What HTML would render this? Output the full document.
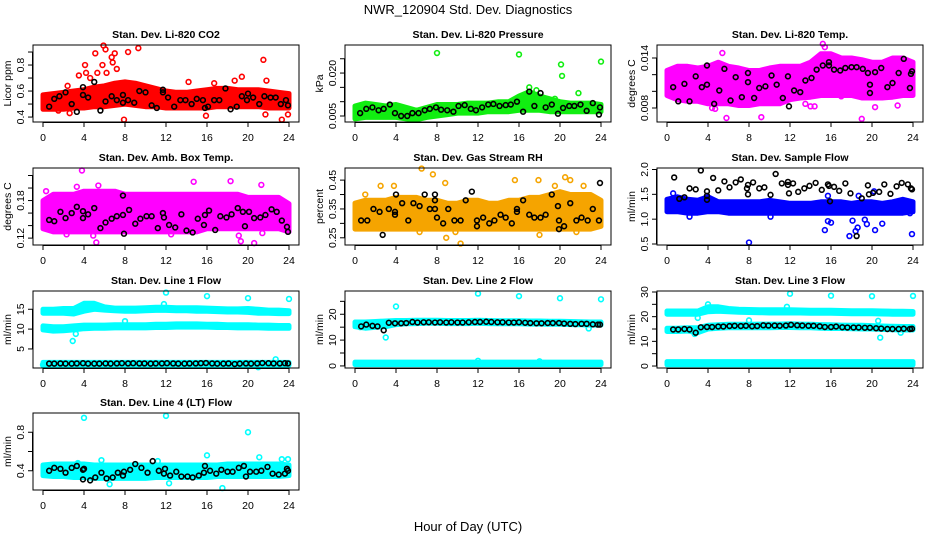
<!DOCTYPE html>
<html><head><meta charset="utf-8"><style>
body{margin:0;background:#fff;}
svg text{font-family:"Liberation Sans",sans-serif;fill:#000;}
</style></head><body>
<svg id="chart" width="936" height="540" viewBox="0 0 936 540" xmlns="http://www.w3.org/2000/svg">
<text x="468" y="14" text-anchor="middle" font-size="13">NWR_120904  Std. Dev. Diagnostics</text>
<text x="468" y="531" text-anchor="middle" font-size="13">Hour of Day (UTC)</text>
</svg>
<script>
const hours=[0,1,2,3,4,5,6,7,8,9,10,11,12,13,14,15,16,17,18,19,20,21,22,23,24];
const xTicks=[0,4,8,12,16,20,24];

// Panel 1 CO2
const co2Lo=[.46,.46,.46,.47,.47,.48,.48,.49,.50,.49,.48,.48,.47,.47,.47,.47,.47,.48,.48,.48,.48,.48,.47,.47,.47];
const co2Hi=[.57,.58,.59,.60,.61,.63,.64,.66,.67,.66,.64,.62,.60,.59,.59,.60,.61,.62,.62,.61,.61,.61,.60,.59,.58];
const co2Out=[[5.9,.95],[6.1,.92],[8.3,.90],[9.3,.93],[5.1,.89],[6.7,.86],[7.0,.89],[4.1,.80],[5.8,.80],[6.8,.82],[7.2,.77],[3.5,.72],[4.2,.74],[4.6,.70],[5.3,.74],[6.2,.74],[7.9,.38],[15.9,.41],[21.5,.84],[21.7,.42],[23.3,.38],[23.9,.42],[19.4,.71],[18.7,.68],[14.2,.67],[16.7,.66],[2.6,.43],[1.5,.45],[21.8,.68],[2.4,.64]];
const co2Black=[[0.6,.48],[1.1,.54],[1.6,.56],[2.2,.59],[2.8,.50],[3.3,.44],[3.9,.57],[3.9,.63],[4.4,.55],[5.0,.67],[5.6,.45],[6.1,.52],[6.7,.56],[7.2,.53],[7.8,.51],[7.8,.57],[8.3,.53],[8.9,.51],[9.4,.60],[10.0,.59],[10.6,.49],[11.1,.47],[11.7,.61],[11.7,.59],[12.2,.55],[12.8,.48],[13.4,.53],[13.9,.53],[14.5,.50],[15.0,.54],[15.6,.53],[15.8,.47],[16.1,.48],[16.7,.53],[17.2,.53],[17.8,.62],[18.3,.46],[18.9,.48],[19.4,.56],[19.9,.53],[20.0,.58],[20.5,.55],[21.1,.50],[21.6,.56],[22.2,.55],[22.7,.55],[23.2,.50],[23.7,.53],[23.9,.49]];
// Panel 2 Pressure
const prLo=[.004,.0045,.0045,.0045,.0045,.004,.0037,.0045,.005,.0055,.006,.006,.006,.0065,.0065,.0065,.007,.007,.007,.0065,.0065,.0065,.0065,.0065,.0065];
const prHi=[.0085,.0095,.009,.0085,.009,.008,.007,.008,.009,.009,.009,.0095,.0095,.0095,.010,.010,.012,.0135,.012,.011,.010,.0095,.0095,.0095,.009];
const prOut=[[8,.027],[16,.0265],[20.1,.023],[20.2,.019],[24,.024],[21.8,.013],[17,.015],[17.7,.014],[19.5,.011]];
const prBlack=[[0.5,.006],[1.1,.0075],[1.7,.008],[2.3,.007],[2.8,.0075],[3.4,.009],[3.9,.006],[4.5,.005],[5.1,.005],[5.6,.006],[6.2,.006],[6.8,.007],[7.3,.0075],[7.9,.008],[8.4,.0072],[9.0,.007],[9.6,.0065],[10.1,.0085],[10.7,.0088],[11.3,.0075],[11.8,.007],[12.4,.008],[13.0,.009],[13.5,.0092],[14.1,.0085],[14.7,.0088],[15.2,.009],[15.8,.010],[16.4,.0065],[17,.0135],[17.5,.0085],[18.1,.013],[18.6,.008],[19.2,.009],[19.8,.0058],[20.3,.0078],[20.9,.0085],[21.4,.0085],[22.0,.009],[22.6,.0068],[23.2,.0095],[23.8,.0055],[23.9,.008]];
// Panel 3 Li-820 Temp
const ltLo=[.0095,.009,.0088,.0088,.0085,.0085,.0085,.0083,.0083,.0085,.0085,.0085,.009,.0092,.0093,.0095,.0095,.0095,.0095,.0092,.0092,.0092,.0093,.0095,.0095];
const ltHi=[.0125,.013,.013,.0128,.013,.0135,.013,.0128,.0125,.0125,.0128,.013,.013,.013,.0135,.0145,.0145,.014,.014,.0138,.0135,.0135,.014,.014,.0135];
const ltOut=[[15.2,.0157],[15.4,.0153],[5.4,.0146],[5.8,.0068],[9.2,.0069],[19,.0067],[14,.0082],[14.4,.0082],[17,.0094],[20.3,.0081],[4.4,.008],[4.7,.0079],[22.5,.0083],[13.5,.0085]];
const ltBlack=[[0.6,.0105],[1.1,.0088],[1.7,.0109],[2.2,.0088],[2.8,.0118],[3.4,.0105],[3.9,.0131],[3.9,.0108],[4.6,.0085],[5.1,.0101],[5.6,.0127],[6.2,.0089],[6.7,.0117],[7.3,.0093],[7.9,.0122],[7.9,.0111],[8.5,.0092],[9.0,.0104],[9.6,.0106],[10.2,.0119],[10.7,.0108],[11.3,.0092],[11.8,.0118],[11.9,.0082],[12.4,.0101],[13.0,.0099],[13.5,.0113],[14.1,.0116],[14.6,.0126],[15.2,.0131],[15.8,.0131],[15.8,.0135],[16.3,.0126],[16.9,.0125],[17.4,.0128],[18.0,.0129],[18.5,.0129],[19.1,.0127],[19.6,.0122],[19.8,.0098],[19.8,.0108],[20.3,.0123],[20.9,.0128],[21.5,.0105],[22.0,.011],[22.6,.0122],[23.1,.0139],[23.7,.0104],[23.8,.0121],[23.9,.0124]];
// Panel 4 Amb Box Temp
const abLo=[.135,.13,.13,.13,.13,.13,.13,.13,.13,.13,.13,.13,.13,.13,.13,.13,.135,.135,.135,.135,.135,.135,.135,.135,.13];
const abHi=[.18,.19,.19,.19,.195,.195,.195,.195,.19,.19,.19,.19,.19,.19,.19,.19,.19,.19,.19,.19,.185,.185,.185,.185,.175];
const abOut=[[3.8,.228],[5.2,.113],[20.6,.112],[19.3,.115],[2.3,.126],[12.5,.126],[18.3,.211],[14.7,.210],[5.4,.204],[21.3,.205],[0.3,.195],[3.3,.202],[19.1,.124],[21.4,.128],[4.9,.124]];
const abBlack=[[0.6,.149],[1.1,.147],[1.7,.162],[2.2,.152],[2.8,.160],[3.3,.170],[3.9,.163],[3.9,.152],[4.4,.158],[5.0,.168],[5.6,.136],[6.1,.145],[6.7,.151],[7.2,.155],[7.8,.188],[7.8,.157],[7.9,.127],[8.4,.165],[9.0,.143],[9.5,.151],[10.1,.155],[10.6,.155],[11.2,.136],[11.7,.160],[11.8,.153],[12.3,.141],[12.9,.137],[13.5,.158],[14.0,.132],[14.6,.129],[15.1,.151],[15.7,.141],[15.8,.157],[16.2,.164],[16.8,.133],[17.3,.155],[17.9,.153],[18.4,.158],[19.0,.168],[19.5,.162],[19.7,.139],[20.1,.162],[20.6,.152],[21.2,.153],[21.7,.157],[22.3,.166],[22.8,.162],[23.3,.148],[23.8,.138],[23.9,.130]];
// Panel 5 Gas Stream RH
const rhLo=[.28,.28,.28,.28,.28,.28,.28,.28,.28,.28,.28,.28,.28,.28,.28,.28,.28,.28,.28,.28,.28,.28,.28,.28,.29];
const rhHi=[.37,.38,.38,.38,.39,.39,.39,.38,.38,.37,.37,.38,.38,.37,.37,.38,.38,.39,.39,.40,.41,.40,.40,.40,.38];
const rhOut=[[6.5,.49],[7.6,.47],[10.3,.23],[8.8,.44],[15.6,.45],[17.9,.45],[20.5,.46],[21,.45],[3.8,.43],[2.5,.43],[6.3,.27],[8.9,.25],[9.8,.27],[18,.26],[21.6,.27],[1,.40],[22.3,.43],[19.5,.43]];
const rhBlack=[[0.6,.31],[1.2,.31],[1.8,.35],[2.4,.34],[2.7,.26],[3.3,.35],[3.9,.34],[3.9,.33],[4.0,.40],[4.6,.37],[5.2,.31],[5.7,.37],[6.3,.36],[6.8,.40],[7.3,.35],[7.8,.40],[7.8,.38],[7.8,.35],[8.0,.32],[8.6,.30],[9.1,.35],[9.7,.31],[10.3,.31],[10.8,.38],[11.4,.41],[11.9,.31],[11.9,.29],[12.5,.32],[13.1,.30],[13.6,.31],[14.2,.33],[14.7,.32],[15.3,.30],[15.8,.35],[15.8,.34],[16.4,.38],[17.0,.33],[17.5,.32],[18.1,.32],[18.6,.33],[19.2,.40],[19.8,.36],[19.9,.31],[19.9,.28],[20.4,.29],[21.0,.37],[21.6,.31],[22.1,.32],[22.7,.31],[23.2,.35],[23.8,.31],[23.9,.44]];
// Panel 6 Sample Flow
const sfLo=[1.15,1.15,1.12,1.12,1.15,1.15,1.12,1.12,1.12,1.12,1.12,1.12,1.12,1.12,1.12,1.12,1.12,1.12,1.12,1.12,1.12,1.12,1.12,1.12,1.15];
const sfHi=[1.40,1.45,1.40,1.38,1.45,1.35,1.35,1.35,1.35,1.35,1.38,1.35,1.32,1.32,1.32,1.35,1.35,1.35,1.32,1.35,1.35,1.32,1.35,1.40,1.35];
const sfOut=[[8,.53],[15.4,.78],[15.7,.96],[16,.93],[17.8,.66],[18.1,.97],[18.4,.76],[18.6,.83],[19.3,.99],[19.5,.90],[20.3,.78],[21,.91],[23.9,.70],[15.7,1.47],[20.2,1.56],[10.1,1.05],[2.2,1.05],[23.7,1.12],[0.6,1.52],[18.7,1.47]];
const sfBlack=[[0.7,1.84],[1.2,1.41],[1.7,1.44],[2.2,1.62],[2.8,1.60],[3.3,1.98],[3.9,1.56],[3.9,1.47],[3.9,1.39],[4.5,1.83],[5.0,1.58],[5.6,1.76],[6.1,1.64],[6.7,1.74],[7.2,1.80],[7.8,1.62],[7.9,1.69],[7.9,1.50],[8.4,1.74],[9.0,1.62],[9.5,1.64],[10.1,1.49],[10.6,1.91],[11.2,1.72],[11.8,1.75],[11.8,1.69],[11.9,1.52],[12.3,1.72],[12.8,1.55],[13.4,1.62],[13.9,1.67],[14.5,1.73],[15.1,1.59],[15.7,1.70],[15.8,1.67],[15.9,1.36],[16.3,1.65],[16.8,1.57],[17.4,1.72],[17.9,1.52],[18.5,0.66],[19.0,1.42],[19.6,1.68],[19.7,1.50],[20.1,1.53],[20.7,1.55],[21.2,1.70],[21.8,1.51],[22.4,1.66],[22.9,1.73],[23.5,1.70],[23.8,1.62],[23.9,1.60]];
// Panel 7 Line 1 Flow
const l1aLo=[14,14,14,13.8,14.5,15,14.8,14.6,14.5,14.5,14.6,14.7,14.7,14.6,14.6,14.5,14.5,14.4,14.3,14.3,14.2,14,14,13.9,13.9];
const l1aHi=[15,15,15.2,15.2,16.5,16.5,15.6,15.3,15.3,15.3,15.4,15.5,15.5,15.4,15.4,15.4,15.3,15.2,15.1,15.1,15.2,15,14.8,14.8,14.6];
const l1bLo=[9.8,9.5,9.6,9.8,10.1,10.2,10.2,10.3,10.3,10.3,10.3,10.4,10.4,10.5,10.5,10.5,10.5,10.4,10.4,10.3,10.3,10.3,10.2,10.2,10.2];
const l1bHi=[10.8,10.6,10.6,10.8,11,11,11,11.1,11.1,11.1,11.1,11.2,11.2,11.3,11.3,11.3,11.2,11.2,11.1,11.1,11.1,11,11,10.9,10.9];
const l1cLo=[0.9,0.9,0.9,0.9,0.9,0.9,0.9,0.9,0.9,0.9,0.9,0.9,0.9,0.9,0.9,0.9,0.9,0.9,0.9,0.9,0.9,0.9,0.9,0.9,0.9];
const l1cHi=[1.6,1.6,1.6,1.6,1.6,1.6,1.6,1.6,1.6,1.6,1.6,1.6,1.6,1.6,1.6,1.6,1.6,1.6,1.6,1.6,1.6,1.6,1.6,1.6,1.6];
const l1Out=[[12,19.2],[16,18.3],[20,17.8],[24,17.6],[2.9,7],[3.2,8.8],[8,12],[11.8,16.3],[22.7,2.4],[21,0.4],[0,1]];
const l1Black=[[0.6,1.3],[1.1,1.3],[1.7,1.35],[2.2,1.3],[2.8,1.3],[3.3,1.35],[3.9,1.4],[4.4,1.3],[5.0,1.3],[5.5,1.3],[6.1,1.35],[6.6,1.3],[7.2,1.35],[7.7,1.4],[8.3,1.35],[8.8,1.4],[9.4,1.35],[9.9,1.35],[10.5,1.3],[11.0,1.35],[11.6,1.35],[12.1,1.4],[12.7,1.35],[13.2,1.3],[13.8,1.3],[14.3,1.35],[14.9,1.35],[15.4,1.4],[15.9,1.45],[16.5,1.35],[17.0,1.3],[17.6,1.3],[18.1,1.35],[18.7,1.2],[19.2,1.3],[19.8,1.35],[20.3,1.3],[20.9,1.35],[21.4,1.45],[22.0,1.4],[22.5,1.35],[23.1,1.35],[23.6,1.4],[23.9,1.35]];
// Panel 8 Line 2 Flow
const l2aLo=[15.2,14.6,15,15.2,16,16.3,16.4,16.5,16.5,16.4,16.4,16.4,16.5,16.4,16.3,16.3,16.3,16.2,16.2,16.1,16.1,16,15.9,15.8,15.8];
const l2aHi=[17,17,17.2,17.4,17.6,17.6,17.7,17.7,17.7,17.6,17.6,17.6,17.7,17.6,17.5,17.5,17.5,17.4,17.4,17.3,17.3,17.2,17.1,17,17];
const l2bLo=[0.5,0.5,0.5,0.5,0.5,0.5,0.5,0.5,0.5,0.5,0.5,0.5,0.5,0.5,0.5,0.5,0.5,0.5,0.5,0.5,0.5,0.5,0.5,0.5,0.5];
const l2bHi=[1.5,1.5,1.5,1.5,1.5,1.5,1.5,1.5,1.5,1.5,1.5,1.5,1.5,1.5,1.5,1.5,1.5,1.5,1.5,1.5,1.5,1.5,1.5,1.5,1.5];
const l2Out=[[12,28],[16,27],[20,26.2],[24,25.8],[4,23],[3,11],[22.8,14.5],[0.5,15],[18,1.8],[12,2]];
const l2Black=[[0.6,15.3],[1.1,16],[1.7,15.5],[2.2,15.3],[2.8,13.8],[3.3,16.7],[3.9,16.5],[4.5,16.5],[5.0,16.6],[5.6,17],[6.1,16.8],[6.7,16.9],[7.2,16.9],[7.8,16.8],[8.3,16.9],[8.9,16.8],[9.4,16.9],[10.0,16.8],[10.5,16.8],[11.1,16.9],[11.7,17],[12.2,17],[12.8,17.1],[13.3,17],[13.9,16.9],[14.4,16.9],[15.0,16.8],[15.5,16.8],[16.0,16.9],[16.6,16.7],[17.1,16.6],[17.7,16.5],[18.2,16.5],[18.8,16.6],[19.3,16.6],[19.9,16.6],[20.4,16.4],[21.0,16.3],[21.5,16.2],[22.1,16.3],[22.6,16.3],[23.2,16.1],[23.7,16],[23.9,16]];
// Panel 9 Line 3 Flow
const l3aLo=[21,21,21,21,22,22.2,22,21.8,21.7,21.6,21.5,21.5,21.5,21.5,21.4,21.4,21.4,21.3,21.2,21.2,21.2,21.1,21,21,21];
const l3aHi=[22.3,22.3,22.3,22.3,24,24,23.3,23,22.9,22.8,22.8,22.8,22.8,22.7,22.6,22.6,22.6,22.5,22.4,22.4,22.4,22.3,22.2,22.2,22.1];
const l3bLo=[14,14,14.2,13.5,15,15.3,15.5,15.5,15.5,15.5,15.5,15.6,15.6,15.5,15.5,15.3,15.2,15.2,15.1,15,15,14.8,14.7,14.6,14.6];
const l3bHi=[15.3,15.3,15.5,15.5,16.5,16.7,16.9,16.9,16.9,17,17,17,17.1,17,16.9,16.8,16.7,16.6,16.5,16.5,16.4,16.2,16.1,16,16];
const l3cLo=[0.5,0.5,0.5,0.5,0.5,0.5,0.5,0.5,0.5,0.5,0.5,0.5,0.5,0.5,0.5,0.5,0.5,0.5,0.5,0.5,0.5,0.5,0.5,0.5,0.5];
const l3cHi=[1.8,1.8,1.8,1.8,1.8,1.8,1.8,1.8,1.8,1.8,1.8,1.8,1.8,1.8,1.8,1.8,1.8,1.8,1.8,1.8,1.8,1.8,1.8,1.8,1.8];
const l3Out=[[12,29.3],[16,28.5],[20,28.3],[24,28.4],[4,25],[2.7,13],[3,19.5],[20.8,11.5],[20.6,18.3],[22.8,13.5],[11.7,24],[8,18.5]];
const l3Black=[[0.6,14.8],[1.1,14.8],[1.7,15],[2.2,14.8],[2.8,13.5],[3.3,15.7],[3.9,15.8],[4.4,15.8],[5.0,16],[5.5,16],[6.1,16.2],[6.6,16.3],[7.2,16.2],[7.7,16.3],[8.3,16.1],[8.8,16.2],[9.4,16.5],[9.9,16.4],[10.5,16.4],[11.0,16.3],[11.6,16.4],[12.1,16.7],[12.7,16.5],[13.2,16.4],[13.8,16.3],[14.3,16.3],[14.9,16.1],[15.4,15.8],[16.0,15.8],[16.5,16],[17.1,15.7],[17.6,15.6],[18.2,15.6],[18.7,15.6],[19.3,15.5],[19.8,15.5],[20.4,15.3],[20.9,15.2],[21.5,15],[22.0,15],[22.6,15],[23.1,15.1],[23.7,15],[23.9,15.1]];
// Panel 10 Line 4 (LT) Flow
const l4Lo=[.35,.34,.34,.33,.33,.32,.32,.32,.32,.32,.32,.33,.33,.33,.33,.33,.33,.34,.34,.34,.34,.34,.34,.34,.35];
const l4Hi=[.46,.47,.47,.47,.47,.46,.46,.46,.46,.46,.46,.46,.46,.46,.46,.46,.46,.46,.47,.47,.47,.47,.47,.47,.46];
const l4Out=[[4,.95],[12,.97],[20,.8],[5.7,.51],[16,.56],[21.1,.54],[23.3,.52],[23.9,.52],[17.5,.22],[6.5,.26],[12.3,.27],[3.4,.48],[11.2,.50]];
const l4Black=[[0.6,.40],[1.1,.43],[1.7,.42],[2.2,.38],[2.8,.43],[3.3,.45],[3.9,.41],[3.9,.31],[4.0,.42],[4.6,.30],[5.1,.33],[5.7,.38],[6.2,.32],[6.8,.33],[7.3,.38],[7.8,.35],[7.9,.39],[8.5,.41],[9.0,.47],[9.6,.43],[10.2,.38],[10.7,.50],[11.3,.40],[11.8,.37],[11.9,.42],[12.4,.35],[13.0,.39],[13.5,.34],[14.1,.34],[14.6,.33],[15.2,.35],[15.7,.38],[15.8,.45],[16.3,.40],[16.9,.37],[17.4,.41],[18.0,.39],[18.5,.39],[19.1,.43],[19.6,.45],[19.8,.34],[20.2,.39],[20.8,.39],[21.3,.40],[21.9,.44],[22.4,.37],[23.0,.36],[23.6,.37],[23.8,.42],[23.9,.40]];

const panels=[
 {name:'co2',title:'Stan. Dev. Li-820 CO2',ylab:'Licor ppm',col:0,row:0,ymin:.362,ymax:.954,color:'#ff0000',bands:[[co2Lo,co2Hi]],out:co2Out,black:co2Black,ticks:[.4,.5,.6,.7,.8,.9],labels:{'0.4':'0.4','0.6':'0.6','0.8':'0.8'}},
 {name:'pressure',title:'Stan. Dev. Li-820 Pressure',ylab:'kPa',col:1,row:0,ymin:.0029,ymax:.0298,color:'#11ee11',bands:[[prLo,prHi]],out:prOut,black:prBlack,ticks:[.005,.01,.015,.02,.025],labels:{'0.005':'0.005','0.02':'0.020'}},
 {name:'li820-temp',title:'Stan. Dev. Li-820 Temp.',ylab:'degrees C',col:2,row:0,ymin:.00632,ymax:.01556,color:'#ff00ff',bands:[[ltLo,ltHi]],out:ltOut,black:ltBlack,ticks:[.008,.01,.012,.014],labels:{'0.008':'0.008','0.014':'0.014'}},
 {name:'amb-box-temp',title:'Stan. Dev. Amb. Box Temp.',ylab:'degrees C',col:0,row:1,ymin:.109,ymax:.232,color:'#ff00ff',bands:[[abLo,abHi]],out:abOut,black:abBlack,ticks:[.12,.14,.16,.18,.2,.22],labels:{'0.12':'0.12','0.18':'0.18'}},
 {name:'gas-stream-rh',title:'Stan. Dev. Gas Stream RH',ylab:'percent',col:1,row:1,ymin:.225,ymax:.492,color:'#f5a400',bands:[[rhLo,rhHi]],out:rhOut,black:rhBlack,ticks:[.25,.3,.35,.4,.45],labels:{'0.25':'0.25','0.35':'0.35','0.45':'0.45'}},
 {name:'sample-flow',title:'Stan. Dev. Sample Flow',ylab:'ml/min',col:2,row:1,ymin:.48,ymax:2.03,color:'#0000ff',bands:[[sfLo,sfHi]],out:sfOut,black:sfBlack,ticks:[.5,1,1.5,2],labels:{'0.5':'0.5','1':'1.0','1.5':'1.5','2':'2.0'}},
 {name:'line1-flow',title:'Stan. Dev. Line 1 Flow',ylab:'ml/min',col:0,row:2,ymin:.2,ymax:19.6,color:'#00ffff',bands:[[l1aLo,l1aHi],[l1bLo,l1bHi],[l1cLo,l1cHi]],out:l1Out,black:l1Black,ticks:[5,10,15],labels:{'5':'5','10':'10','15':'15'}},
 {name:'line2-flow',title:'Stan. Dev. Line 2 Flow',ylab:'ml/min',col:1,row:2,ymin:-.8,ymax:29,color:'#00ffff',bands:[[l2aLo,l2aHi],[l2bLo,l2bHi]],out:l2Out,black:l2Black,ticks:[0,5,10,15,20,25],labels:{'0':'0','10':'10','20':'20'}},
 {name:'line3-flow',title:'Stan. Dev. Line 3 Flow',ylab:'ml/min',col:2,row:2,ymin:-.8,ymax:30.4,color:'#00ffff',bands:[[l3aLo,l3aHi],[l3bLo,l3bHi],[l3cLo,l3cHi]],out:l3Out,black:l3Black,ticks:[0,5,10,15,20,25,30],labels:{'0':'0','10':'10','20':'20','30':'30'}},
 {name:'line4-flow',title:'Stan. Dev. Line 4 (LT) Flow',ylab:'ml/min',col:0,row:3,ymin:.2,ymax:1.0,color:'#00ffff',bands:[[l4Lo,l4Hi]],out:l4Out,black:l4Black,ticks:[.4,.6,.8],labels:{'0.4':'0.4','0.8':'0.8'}}
];
const colX=[33,345,657], rowY=[45,168,291,413], BW=266, BH=77;
const NS='http://www.w3.org/2000/svg';
const svg=document.getElementById('chart');
function mk(tag,attrs,parent){const e=document.createElementNS(NS,tag);for(const k in attrs)e.setAttribute(k,attrs[k]);(parent||svg).appendChild(e);return e;}

panels.forEach(p=>{
  const x0=colX[p.col], y0=rowY[p.row];
  const g=mk('g',{});
  
  
  const xs=v=>x0+10+v/24*(BW-20);
  const ys=v=>y0+BH-(v-p.ymin)/(p.ymax-p.ymin)*BH;
  p.bands.forEach((b,bi)=>{
    let d='M'+hours.map((h,i)=>xs(h).toFixed(1)+','+ys(b[1][i]).toFixed(1)).join(' L');
    for(let i=hours.length-1;i>=0;i--) d+=' L'+xs(hours[i]).toFixed(1)+','+ys(b[0][i]).toFixed(1);
    const band=mk('path',{d:d+'Z',fill:p.color,stroke:p.color,'stroke-width':5,'stroke-linejoin':'round'},g);
    
    
  });
  p.out.forEach(pt=>{
    const c=mk('circle',{cx:xs(pt[0]),cy:ys(pt[1]),r:2.4,fill:'none',stroke:p.color,'stroke-width':1.6},g);
    
    
  });
  p.black.forEach(pt=>{
    const c=mk('circle',{cx:xs(pt[0]),cy:ys(pt[1]),r:2.4,fill:'none',stroke:'#000','stroke-width':1.6},g);
    
    
  });
  const box=mk('rect',{x:x0,y:y0,width:BW,height:BH,fill:'none',stroke:'#000','stroke-width':1},g);
  
  
  const t=mk('text',{x:x0+BW/2,y:y0-7,'text-anchor':'middle','font-size':10.5,'font-weight':'bold'},g);
  t.textContent=p.title;
  
  
  xTicks.forEach(v=>{
    mk('line',{x1:xs(v),x2:xs(v),y1:y0+BH,y2:y0+BH+5,stroke:'#000'},g);
    const l=mk('text',{x:xs(v),y:y0+BH+19,'text-anchor':'middle','font-size':10.5},g);
    l.textContent=v;
    
    
  });
  mk('line',{x1:xs(0),x2:xs(24),y1:y0+BH+.5,y2:y0+BH+.5,stroke:'#000'},g);
  const tv=p.ticks.filter(v=>v>=p.ymin&&v<=p.ymax);
  mk('line',{x1:x0-.5,x2:x0-.5,y1:ys(tv[0]),y2:ys(tv[tv.length-1]),stroke:'#000'},g);
  tv.forEach(v=>{
    mk('line',{x1:x0-5,x2:x0,y1:ys(v),y2:ys(v),stroke:'#000'},g);
    const key=String(+v.toFixed(4));
    if(p.labels[key]!==undefined){
      const yy=ys(v);
      const l=mk('text',{x:x0-9,y:yy,'text-anchor':'middle','font-size':10.5,transform:'rotate(-90 '+(x0-9)+' '+yy+')'},g);
      l.textContent=p.labels[key];
      
      
    }
  });
  const yl=mk('text',{x:x0-22,y:y0+BH/2,'text-anchor':'middle','font-size':10.5,transform:'rotate(-90 '+(x0-22)+' '+(y0+BH/2)+')'},g);
  yl.textContent=p.ylab;
  
  
});
</script>
</body></html>
